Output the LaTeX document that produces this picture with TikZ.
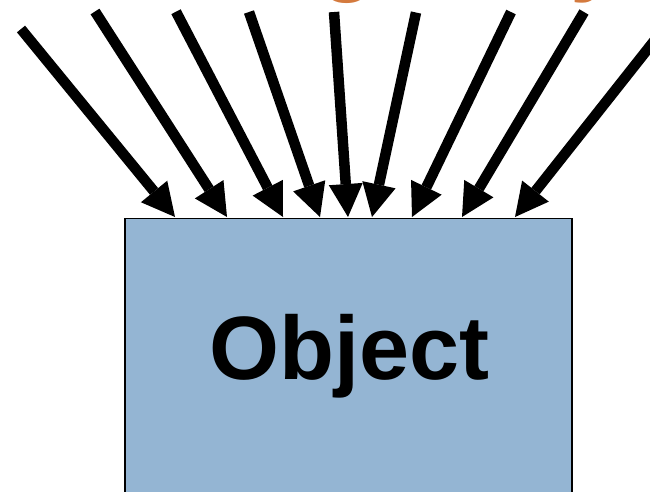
\documentclass[tikz,border=0pt]{standalone}
\usepackage{fontspec}
\setmainfont{Liberation Sans}
\usetikzlibrary{arrows.meta}
\definecolor{objfill}{RGB}{148,181,211}
\definecolor{titleorange}{RGB}{212,122,62}
\tikzset{
  ray/.style={line width=10.5pt, -{Triangle[width=34pt,length=33pt,line width=0pt]}},
  objbox/.style={draw=black, line width=1.5pt, fill=objfill, anchor=north west, inner sep=0pt},
  bigtext/.style={font=\bfseries\fontsize{90}{90}\selectfont, inner sep=0pt}
}
\begin{document}
\begin{tikzpicture}[x=1pt,y=-1pt]
\useasboundingbox (0,0) rectangle (650,491);
% title (only descenders visible)
\node[bigtext, text=titleorange, anchor=base west] (title) at (240,-15.5) {Light rays};
% object box
\node[objbox, minimum width=446.7pt, minimum height=300pt] (obj) at (124.3,217.5) {};
\node[bigtext, anchor=base] (objlabel) at (349.5,379) {Object};
% ray tails
\coordinate (s1) at (21,29);
\coordinate (s2) at (95,11.5);
\coordinate (s3) at (176,11.7);
\coordinate (s4) at (249,12);
\coordinate (s5) at (334,12);
\coordinate (s6) at (416,12.5);
\coordinate (s7) at (511,12);
\coordinate (s8) at (584,12);
\coordinate (s9) at (677,12);
% ray tips
\coordinate (t1) at (175,217);
\coordinate (t2) at (227,217);
\coordinate (t3) at (283,217);
\coordinate (t4) at (320,217);
\coordinate (t5) at (348,217);
\coordinate (t6) at (372,217);
\coordinate (t7) at (412,217);
\coordinate (t8) at (462,217);
\coordinate (t9) at (515,217);
\foreach \i in {1,...,9} {
  \draw[ray] (s\i) -- (t\i);
}
\end{tikzpicture}
\end{document}
